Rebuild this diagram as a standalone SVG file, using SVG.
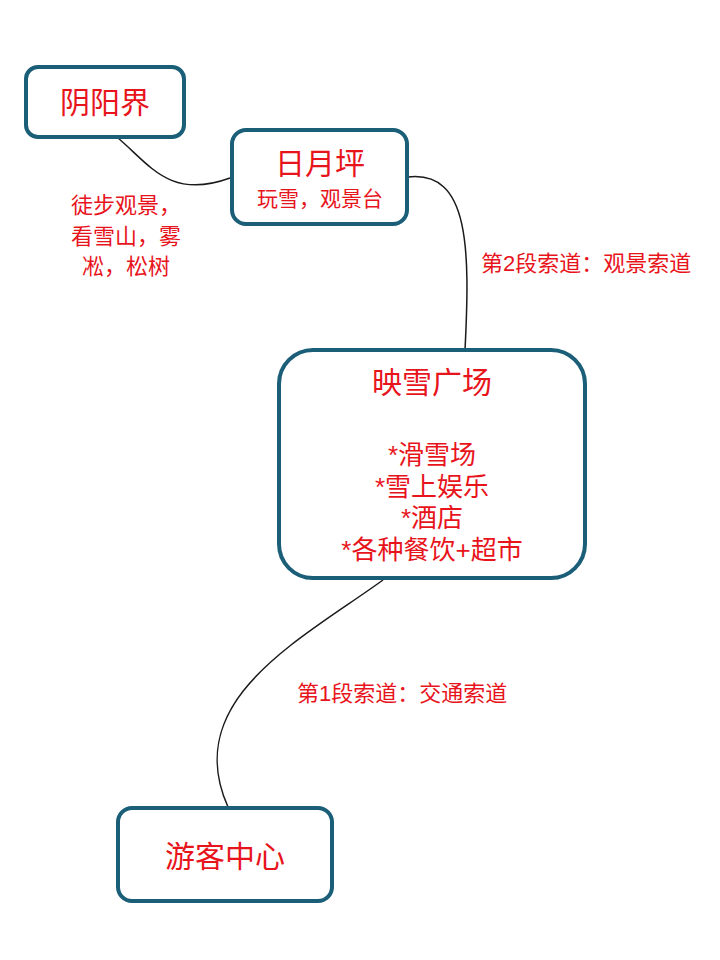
<svg xmlns="http://www.w3.org/2000/svg" width="720" height="960" viewBox="0 0 720 960">
<style>
.n{fill:#fff;stroke:#1b5e78;stroke-width:4}
.t{fill:#e8141c;font-family:"Liberation Sans","Noto Sans CJK SC",sans-serif;text-anchor:middle}
.l{fill:#e8141c;font-family:"Liberation Sans","Noto Sans CJK SC",sans-serif;font-size:22px}
.c{fill:none;stroke:#1a1a1a;stroke-width:1.5}
</style>
<rect width="720" height="960" fill="#fff"/>
<g id="connectors">
<path class="c" d="M118,138 C150,165 170,200 230,178"/>
<path class="c" d="M408,177 C470,170 470,250 465,350"/>
<path class="c" d="M383,580 C300,640 180,700 228,807"/>
</g>
<g id="yinyangjie"><rect class="n" x="26" y="67" width="158" height="70" rx="12"/><text class="t" x="105" y="113" font-size="30">阴阳界</text></g>
<g id="riyueping"><rect class="n" x="232" y="130" width="175" height="94" rx="14"/><text class="t" x="320" y="174" font-size="30">日月坪</text><text class="t" x="320" y="206" font-size="21">玩雪，观景台</text></g>
<g id="yingxue"><rect class="n" x="279" y="350" width="306" height="228" rx="34"/>
<text class="t" x="432" y="393" font-size="30">映雪广场</text>
<text class="t" x="432" y="464" font-size="26">*滑雪场</text>
<text class="t" x="432" y="496" font-size="26">*雪上娱乐</text>
<text class="t" x="432" y="527" font-size="26">*酒店</text>
<text class="t" x="432" y="559" font-size="26">*各种餐饮+超市</text></g>
<g id="youke"><rect class="n" x="118" y="808" width="214" height="93" rx="14"/><text class="t" x="225" y="867" font-size="30">游客中心</text></g>
<g id="labels">
<text class="l" x="126" y="213" text-anchor="middle">徒步观景，</text>
<text class="l" x="126" y="244" text-anchor="middle">看雪山，雾</text>
<text class="l" x="126" y="274" text-anchor="middle">凇，松树</text>
<text class="l" x="481" y="271">第2段索道：观景索道</text>
<text class="l" x="297" y="701">第1段索道：交通索道</text>
</g>
</svg>
